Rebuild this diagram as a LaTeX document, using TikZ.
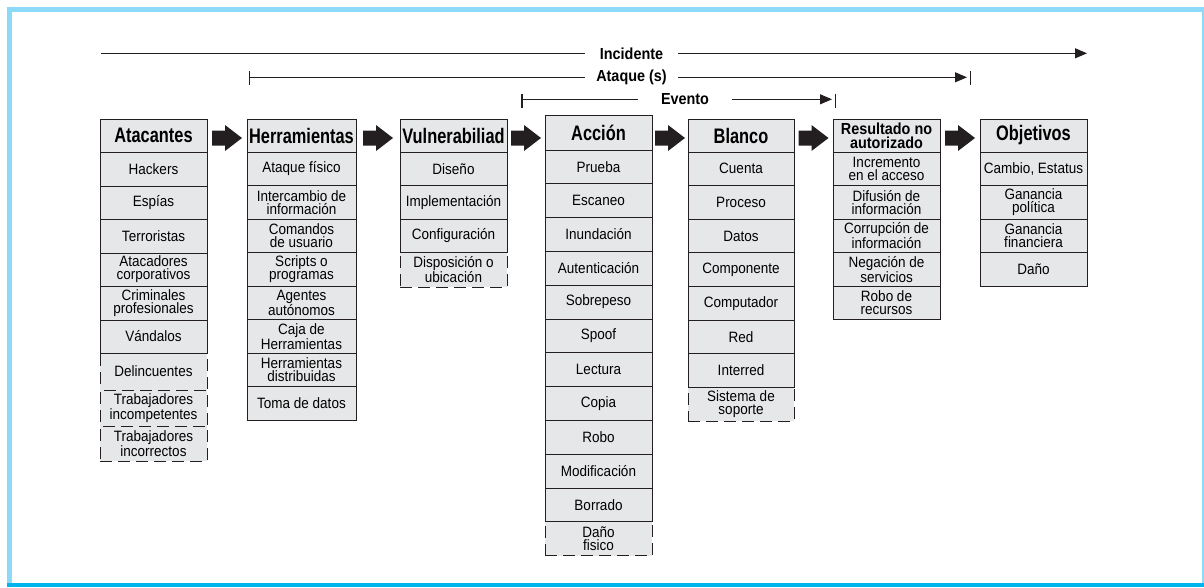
\documentclass[tikz,border=0pt]{standalone}
\usepackage{fontspec}
\setmainfont{Liberation Sans}
\newfontfamily\itemf{Liberation Sans}[FakeStretch=0.9]
\newfontfamily\headf{Liberation Sans}[FakeStretch=0.78]
\usetikzlibrary{calc,arrows.meta}
\definecolor{ln}{HTML}{231F20}
\definecolor{cellfill}{HTML}{E6E7E8}
\definecolor{frA}{HTML}{8DD9F8}
\definecolor{frB}{HTML}{00B4EE}
\tikzset{
  cell/.style={draw=ln, fill=cellfill, line width=0.95pt, inner sep=0pt, align=center,
    font=\itemf\fontsize{15}{13}\selectfont},
  dcell/.style={cell, dash pattern=on 12pt off 6pt},
  hcell/.style={cell, font=\headf\bfseries\fontsize{21}{21}\selectfont},
  rhcell/.style={cell, font=\itemf\bfseries\fontsize{16}{14}\selectfont},
  tl/.style={font=\itemf\bfseries\fontsize{16}{16}\selectfont, inner ysep=0pt},
  tline/.style={draw=ln, line width=1.1pt},
  tiptri/.style={-{Triangle[length=12pt,width=10pt]}},
}
\newcommand\cellrow[7][cell]{%
  \node[#1, minimum width={((#4)-(#3))*1pt}, minimum height={((#6)-(#5))*1pt}]
    (#2) at ({((#3)+(#4))/2},{((#5)+(#6))/2}) {#7};}
\newcommand\blockarrow[3]{%
  \coordinate (#3) at ($(#1.east|-ay)!0.5!(#2.west|-ay)$);
  \fill[ln] ($(#3)+(-15,-7.5)$) -- ($(#3)+(-2,-7.5)$) -- ($(#3)+(-2,-13)$) -- ($(#3)+(15,0)$)
    -- ($(#3)+(-2,13)$) -- ($(#3)+(-2,7.5)$) -- ($(#3)+(-15,7.5)$) -- cycle;}
\begin{document}
\begin{tikzpicture}[x=1pt,y=-1pt]
\useasboundingbox (0,0) rectangle (1204,587);
% frame
\fill[frA] (6.5,6.5) rectangle (1204,12);
\fill[frA] (6.5,6.5) rectangle (11.5,583);
\fill[frA] (1201.5,6.5) rectangle (1204,583);
\fill[frB] (6.5,582.5) rectangle (1204,587);

% Atacantes
\cellrow[hcell]{atk0}{100}{207}{119}{152}{Atacantes}
\cellrow[dcell]{atk7}{100}{207}{353}{390}{Delincuentes}
\cellrow[dcell]{atk8}{100}{207}{390}{426}{Trabajadores\\incompetentes}
\cellrow[dcell]{atk9}{100}{207}{426}{461}{Trabajadores\\incorrectos}
\cellrow{atk1}{100}{207}{152}{186}{Hackers}
\cellrow{atk2}{100}{207}{186}{219}{Espías}
\cellrow{atk3}{100}{207}{219}{253}{Terroristas}
\cellrow{atk4}{100}{207}{253}{286}{Atacadores\\corporativos}
\cellrow{atk5}{100}{207}{286}{320}{Criminales\\profesionales}
\cellrow{atk6}{100}{207}{320}{353}{Vándalos}

% Herramientas
\cellrow[hcell]{her0}{247}{356}{119}{152}{Herramientas}
\foreach \txt [count=\i] in {Ataque físico, Intercambio de\\información, Comandos\\de usuario,
  Scripts o\\programas, Agentes\\autónomos, Caja de\\Herramientas, Herramientas\\distribuidas,
  Toma de datos}
  {\cellrow{her\i}{247}{356}{152+(\i-1)*33.5}{152+\i*33.5}{\txt}}

% Vulnerabiliad
\cellrow[hcell]{vul0}{400}{507}{119}{152}{Vulnerabiliad}
\cellrow[dcell]{vul4}{400}{507}{252.5}{287}{Disposición o\\ubicación}
\foreach \txt [count=\i] in {Diseño, Implementación, Configuración}
  {\cellrow{vul\i}{400}{507}{152+(\i-1)*33.5}{152+\i*33.5}{\txt}}

% Accion
\cellrow[hcell]{acc0}{545}{652}{115}{150}{Acción}
\cellrow[dcell]{acc12}{545}{652}{521.8}{555.6}{Daño\\fisico}
\foreach \txt [count=\i] in {Prueba, Escaneo, Inundación, Autenticación, Sobrepeso, Spoof,
  Lectura, Copia, Robo, Modificación, Borrado}
  {\cellrow{acc\i}{545}{652}{150+(\i-1)*33.8}{150+\i*33.8}{\txt}}

% Blanco
\cellrow[hcell]{bla0}{688}{794}{119}{152}{Blanco}
\cellrow[dcell]{bla8}{688}{794}{387.2}{421}{Sistema de\\soporte}
\foreach \txt [count=\i] in {Cuenta, Proceso, Datos, Componente, Computador, Red, Interred}
  {\cellrow{bla\i}{688}{794}{152+(\i-1)*33.6}{152+\i*33.6}{\txt}}

% Resultado no autorizado
\cellrow[rhcell]{res0}{833}{940}{119}{152}{Resultado no\\autorizado}
\foreach \txt [count=\i] in {Incremento\\en el acceso, Difusión de\\información,
  Corrupción de\\información, Negación de\\servicios, Robo de\\recursos}
  {\cellrow{res\i}{833}{940}{152+(\i-1)*33.5}{152+\i*33.5}{\txt}}

% Objetivos
\cellrow[hcell]{obj0}{980}{1087}{119}{152}{Objetivos}
\foreach \txt [count=\i] in {{Cambio, Estatus}, Ganancia\\política, Ganancia\\financiera, Daño}
  {\cellrow{obj\i}{980}{1087}{152+(\i-1)*33.5}{152+\i*33.5}{\txt}}

% block arrows
\coordinate (ay) at (0,138);
\blockarrow{atk0}{her0}{ba1}
\blockarrow{her0}{vul0}{ba2}
\blockarrow{vul0}{acc0}{ba3}
\blockarrow{acc0}{bla0}{ba4}
\blockarrow{bla0}{res0}{ba5}
\blockarrow{res0}{obj0}{ba6}

% timelines
\node[tl, inner xsep=14.5pt] (inc) at (631.5,53.3) {Incidente};
\coordinate (inc-a) at (101,53.3);
\coordinate (inc-b) at (1087,53.3);
\draw[tline] (inc-a) -- (inc);
\draw[tline, tiptri] (inc) -- (inc-b);

\node[tl, inner xsep=11.5pt] (ata) at (631.5,77.3) {Ataque (s)};
\coordinate (ata-a) at (249.5,77.3);
\coordinate (ata-b) at (967,77.3);
\coordinate (ata-t) at (970.5,77.3);
\draw[tline] (ata-a) -- (ata);
\draw[tline, tiptri] (ata) -- (ata-b);
\draw[tline] ($(ata-a)+(0,-6.5)$) -- ($(ata-a)+(0,7.5)$);
\draw[tline] ($(ata-t)+(0,-6.5)$) -- ($(ata-t)+(0,7.5)$);

\node[tl, inner xsep=23pt] (eve) at (685,99.3) {Evento};
\coordinate (eve-a) at (522,99.3);
\coordinate (eve-b) at (832,99.3);
\coordinate (eve-t) at (835.5,99.3);
\draw[tline] (eve-a) -- (eve);
\draw[tline, tiptri] (eve) -- (eve-b);
\draw[tline] ($(eve-a)+(0,-5.5)$) -- ($(eve-a)+(0,8.5)$);
\draw[tline] ($(eve-t)+(0,-5.5)$) -- ($(eve-t)+(0,8.5)$);
\end{tikzpicture}
\end{document}
